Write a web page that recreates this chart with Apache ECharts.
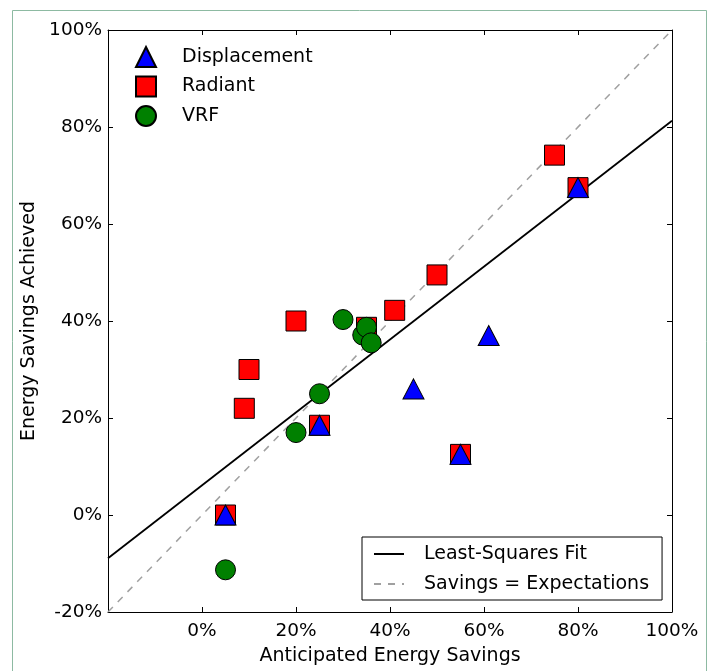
<!DOCTYPE html>
<html>
<head>
<meta charset="utf-8">
<script src="https://cdn.jsdelivr.net/npm/echarts@6/dist/echarts.min.js"></script>
<style>html,body{margin:0;padding:0;background:#fff;}#c{width:710px;height:671px;}</style>
</head>
<body>
<div id="c"></div>
<script>
// ---- data (percent) ----
const dispX = [5, 25, 45, 55, 61, 80];
const dispY = [0, 18.5, 26, 12.5, 37, 67.5];
const radX = [5, 9, 10, 20, 25, 35, 41, 50, 55, 75, 80];
const radY = [0, 22, 30, 40, 18.5, 38.7, 42.2, 49.5, 12.5, 74.2, 67.5];
const vrfX = [5, 20, 25, 30, 34.2, 35, 36];
const vrfY = [-11.3, 17, 25, 40.3, 37.1, 38.7, 35.5];
const fitX = [-20, 100];
const fitY = [-8.9, 81.3];
const diagX = [-20, 100];
const diagY = [-20, 100];
const xTicks = [-20, 0, 20, 40, 60, 80, 100];
const yTicks = [-20, 0, 20, 40, 60, 80, 100];
const seriesNames = ['Displacement', 'Radiant', 'VRF'];
const lineNames = ['Least-Squares Fit', 'Savings = Expectations'];

const pairs = (xs, ys) => xs.map((x, i) => [x, ys[i]]);
const FONT = 'DejaVu Sans';
const pct = v => v + '%';

const chart = echarts.init(document.getElementById('c'), null, {renderer: 'canvas'});
const baseAxis = {
  type: 'value', interval: 20, splitLine: {show: false},
  axisLine: {show: true, onZero: false, lineStyle: {color: '#000', width: 1}},
  axisTick: {show: true, inside: true, length: 5, lineStyle: {color: '#000'}}
};
chart.setOption({
  animation: false,
  backgroundColor: '#fff',
  graphic: [{
    type: 'rect', silent: true, z: -10,
    shape: {x: 12.5, y: 10.5, width: 694, height: 700},
    style: {fill: 'none', stroke: '#8dbaa2', lineWidth: 1}
  }],
  grid: {left: 108, top: 30, right: 38, bottom: 59, containLabel: false},
  xAxis: [
    Object.assign({}, baseAxis, {
      min: xTicks[0], max: xTicks[xTicks.length - 1], position: 'bottom',
      name: 'Anticipated Energy Savings', nameLocation: 'middle', nameGap: 35,
      nameTextStyle: {fontFamily: FONT, fontSize: 19, color: '#000'},
      axisLabel: {margin: 10, fontFamily: FONT, fontSize: 18.5, color: '#000',
        formatter: v => (v === xTicks[0] ? '' : pct(v))}
    }),
    Object.assign({}, baseAxis, {
      min: xTicks[0], max: xTicks[xTicks.length - 1], position: 'top',
      axisLabel: {show: false}
    })
  ],
  yAxis: [
    Object.assign({}, baseAxis, {
      min: yTicks[0], max: yTicks[yTicks.length - 1], position: 'left',
      name: 'Energy Savings Achieved', nameLocation: 'middle', nameGap: 66,
      nameTextStyle: {fontFamily: FONT, fontSize: 19, color: '#000'},
      axisLabel: {margin: 6, fontFamily: FONT, fontSize: 18.5, color: '#000', formatter: pct}
    }),
    Object.assign({}, baseAxis, {
      min: yTicks[0], max: yTicks[yTicks.length - 1], position: 'right',
      axisLabel: {show: false}
    })
  ],
  legend: [{
    data: seriesNames, orient: 'vertical', left: 135, top: 46,
    itemWidth: 20, itemHeight: 20, itemGap: 7.5, padding: 0,
    textStyle: {fontFamily: FONT, fontSize: 19, color: '#000', padding: [0, 0, 0, 21], lineHeight: 20}
  }, {
    data: lineNames, orient: 'vertical', left: 362, top: 537,
    itemWidth: 30, itemHeight: 14, itemGap: 10,
    padding: [7, 13, 6, 11],
    borderColor: '#000', borderWidth: 1, backgroundColor: '#fff',
    itemStyle: {color: 'rgba(0,0,0,0)', borderColor: 'rgba(0,0,0,0)', borderWidth: 0},
    textStyle: {fontFamily: FONT, fontSize: 19, color: '#000', padding: [0, 0, 0, 15], lineHeight: 20}
  }],
  series: [
    {name: lineNames[1], type: 'line', data: pairs(diagX, diagY), symbol: 'none', z: 1,
      lineStyle: {color: '#a0a0a0', width: 1.5, type: [7, 7]}, itemStyle: {color: '#a0a0a0'}},
    {name: lineNames[0], type: 'line', data: pairs(fitX, fitY), symbol: 'none', z: 1,
      lineStyle: {color: '#000', width: 1.8}, itemStyle: {color: '#000'}},
    {name: seriesNames[1], type: 'scatter', data: pairs(radX, radY), symbol: 'rect', symbolSize: 20, z: 2,
      itemStyle: {color: '#ff0000', borderColor: '#000', borderWidth: 1, opacity: 1}},
    {name: seriesNames[0], type: 'scatter', data: pairs(dispX, dispY), symbol: 'triangle', symbolSize: [21, 20], z: 3,
      itemStyle: {color: '#0000ff', borderColor: '#000', borderWidth: 1, opacity: 1}},
    {name: seriesNames[2], type: 'scatter', data: pairs(vrfX, vrfY), symbol: 'circle', symbolSize: 20, z: 3,
      itemStyle: {color: '#008000', borderColor: '#000', borderWidth: 1, opacity: 1}}
  ]
});
</script>
</body>
</html>
